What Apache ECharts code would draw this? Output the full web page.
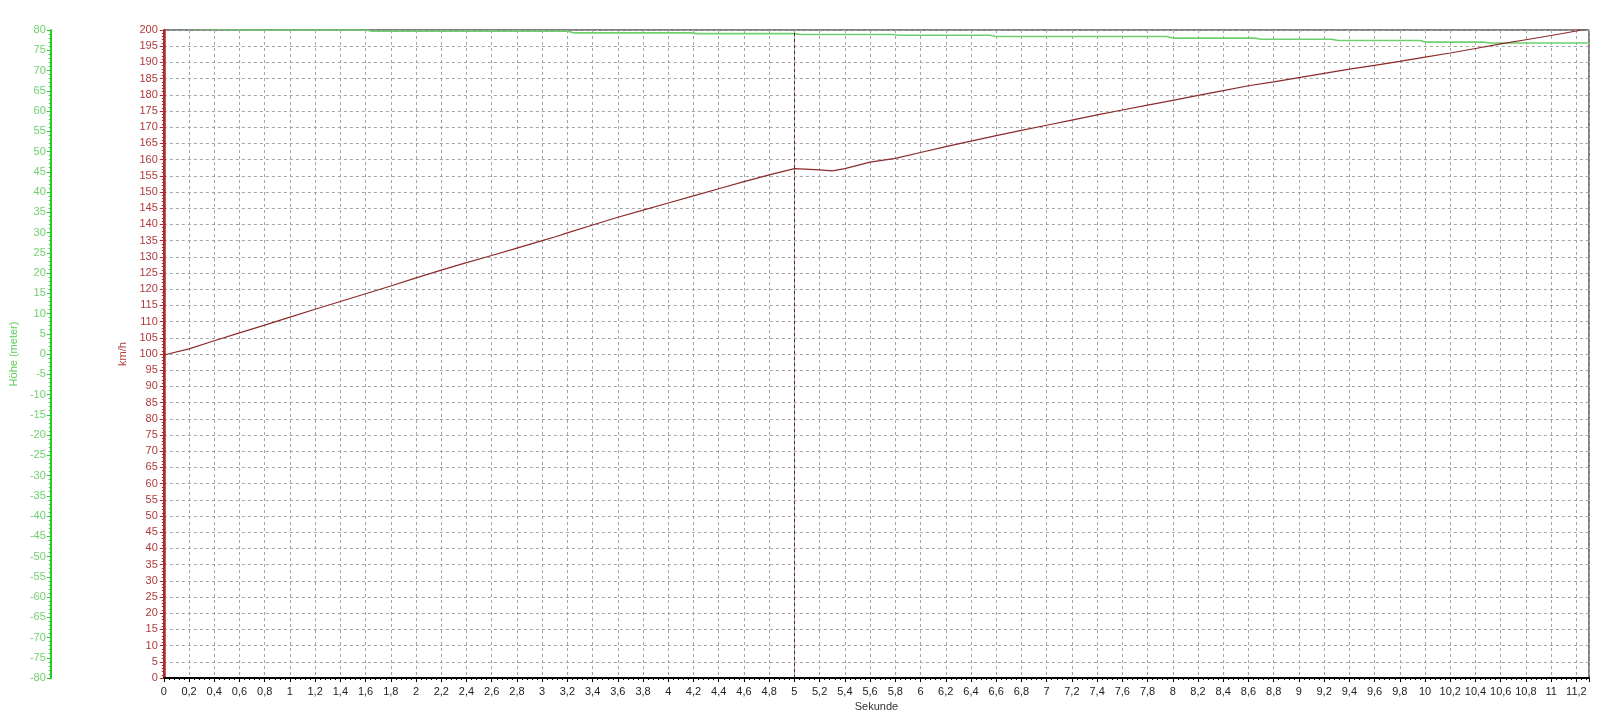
<!DOCTYPE html>
<html>
<head>
<meta charset="utf-8">
<script src="https://cdn.jsdelivr.net/npm/echarts@6/dist/echarts.min.js"></script>
<style>html,body{margin:0;padding:0;background:#fff}#c{width:1600px;height:718px}</style>
</head>
<body>
<div id="c"></div>
<script>
// Speed (km/h) over time (s)
const speedTime = [0,0.2,0.4,0.6,0.8,1.0,1.2,1.4,1.6,1.8,2.0,2.2,2.4,2.6,2.8,3.0,3.1,3.2,3.4,3.6,3.8,4.0,4.2,4.4,4.6,4.8,5.0,5.12,5.2,5.3,5.4,5.6,5.8,6.0,6.2,6.4,6.6,6.8,7.0,7.2,7.4,7.6,7.8,8.0,8.2,8.4,8.6,8.8,9.0,9.2,9.4,9.6,9.8,10.0,10.2,10.4,10.6,10.8,11.0,11.2,11.3];
const speedKmh  = [99.7,101.6,104.1,106.5,108.9,111.4,113.8,116.2,118.6,121.0,123.5,125.9,128.2,130.4,132.7,135.0,136.1,137.4,139.8,142.2,144.4,146.6,148.8,151.0,153.2,155.3,157.2,157.0,156.8,156.5,157.2,159.2,160.4,162.2,164.0,165.7,167.4,169.0,170.6,172.2,173.8,175.3,176.8,178.3,179.8,181.3,182.8,184.0,185.3,186.6,187.9,189.1,190.3,191.6,192.9,194.3,195.7,197.0,198.3,199.7,200.5];
// Height (m) over time (s)
const heightTime = [0,0.67,1.6,1.65,3.2,3.25,4.18,4.23,5.0,5.05,5.78,5.83,6.55,6.6,7.95,8.0,8.65,8.7,9.26,9.31,9.96,10.01,10.46,10.51,11.3];
const heightM    = [80.5,80.0,80.0,79.7,79.7,79.3,79.3,79.1,79.1,78.9,78.9,78.7,78.7,78.4,78.4,78.0,78.0,77.7,77.7,77.4,77.4,77.0,77.0,76.8,76.8];
const markerTime = 5;

const speedData = speedTime.map((t,i)=>[t,speedKmh[i]]);
const heightData = heightTime.map((t,i)=>[t,heightM[i]]);
const fmtX = v => { const s = (Math.round(v*10)/10).toFixed(1).replace(/\.0$/,''); return s.replace('.',','); };

const chart = echarts.init(document.getElementById('c'), null, {renderer:'canvas'});
const FONT = 'Liberation Sans, Arial, sans-serif';
const gridLine = {show:true,lineStyle:{color:'#a4a4a4',type:[3,3],width:1}};
chart.setOption({
  animation:false,
  backgroundColor:'#fff',
  grid:{left:163,right:11,top:30,bottom:40,show:true,borderColor:'#000',borderWidth:1,backgroundColor:'transparent'},
  xAxis:{
    type:'value',min:0,max:11.3,interval:0.2,
    name:'Sekunde',nameLocation:'middle',nameGap:22,
    nameTextStyle:{color:'#333',fontFamily:FONT,fontSize:11},
    axisLine:{show:true,onZero:false,lineStyle:{color:'#000',width:2}},
    axisTick:{show:true,length:4,lineStyle:{color:'#000'}},
    minorTick:{show:true,splitNumber:5,length:2,lineStyle:{color:'#000'}},
    axisLabel:{formatter:fmtX,color:'#222',fontFamily:FONT,fontSize:11,margin:8,showMaxLabel:false},
    splitLine:gridLine
  },
  yAxis:[
    {
      type:'value',min:0,max:200,interval:5,position:'left',
      name:'km/h',nameLocation:'middle',nameGap:29,nameRotate:90,
      nameTextStyle:{color:'#b03a3a',fontFamily:FONT,fontSize:11},
      axisLine:{show:true,lineStyle:{color:'#b22a2a',width:2.5}},
      axisTick:{show:true,length:4,lineStyle:{color:'#b22a2a'}},
      minorTick:{show:true,splitNumber:5,length:2,lineStyle:{color:'#b22a2a'}},
      axisLabel:{color:'#b03a3a',fontFamily:FONT,fontSize:11,margin:6},
      splitLine:gridLine
    },
    {
      type:'value',min:-80,max:80,interval:5,position:'left',offset:113,
      name:'Höhe (meter)',nameLocation:'middle',nameGap:26,nameRotate:90,
      nameTextStyle:{color:'#5ccc5c',fontFamily:FONT,fontSize:11},
      axisLine:{show:true,lineStyle:{color:'#22cc22',width:2}},
      axisTick:{show:true,length:4,lineStyle:{color:'#22cc22'}},
      minorTick:{show:true,splitNumber:5,length:2,lineStyle:{color:'#22cc22'}},
      axisLabel:{color:'#6fd06f',fontFamily:FONT,fontSize:11,margin:5},
      splitLine:{show:false}
    }
  ],
  series:[
    {
      type:'line',yAxisIndex:1,data:heightData,showSymbol:false,clip:true,
      lineStyle:{color:'#6fcf6f',width:1.6},
      itemStyle:{color:'#6fcf6f'}
    },
    {
      type:'line',yAxisIndex:0,data:speedData,showSymbol:false,clip:true,
      lineStyle:{color:'#8b2a2a',width:1.2},
      itemStyle:{color:'#8b2a2a'},
      markLine:{symbol:'none',silent:true,label:{show:false},
        lineStyle:{color:'#6b2020',type:[3,3],width:1},
        data:[{xAxis:markerTime}]}
    }
  ]
});
</script>
</body>
</html>
